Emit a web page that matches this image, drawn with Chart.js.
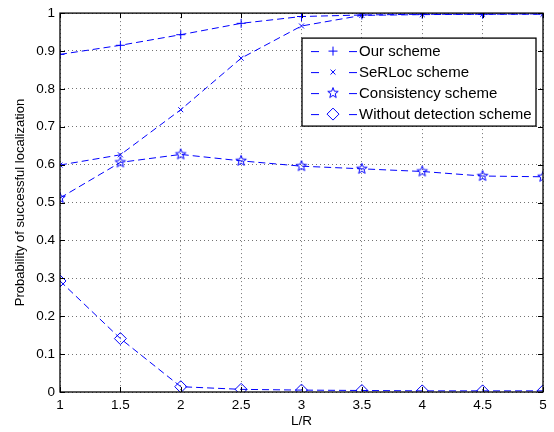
<!DOCTYPE html>
<html>
<head>
<meta charset="utf-8">
<script src="https://cdn.jsdelivr.net/npm/chart.js@4.4.0/dist/chart.umd.min.js"></script>
<style>html,body{margin:0;padding:0;background:#fff}canvas{display:block}</style>
</head>
<body>
<canvas id="c" width="554" height="432"></canvas>
<script>
// L/R values on the x axis
const lr = [1, 1.5, 2, 2.5, 3, 3.5, 4, 4.5, 5];
const ourScheme = [0.891, 0.915, 0.943, 0.973, 0.991, 0.995, 0.997, 0.997, 0.998];
const serlocScheme = [0.599, 0.626, 0.745, 0.881, 0.966, 0.994, 0.996, 0.997, 0.997];
const consistencyScheme = [0.512, 0.606, 0.627, 0.610, 0.596, 0.589, 0.582, 0.570, 0.568];
const withoutDetection = [0.293, 0.141, 0.014, 0.007, 0.005, 0.004, 0.003, 0.003, 0.003];
const seriesNames = ['Our scheme', 'SeRLoc scheme', 'Consistency scheme', 'Without detection scheme'];

const blue = '#0000ff';
const fontFamily = '"Liberation Sans", Arial, Helvetica, sans-serif';

// pentagram marker (matlab 'p')
function makeStar(r) {
  const size = Math.ceil(r * 2 + 3);
  const cv = document.createElement('canvas');
  cv.width = size; cv.height = size;
  const g = cv.getContext('2d');
  const c = size / 2;
  g.strokeStyle = blue;
  g.lineWidth = 1;
  g.beginPath();
  for (let i = 0; i < 10; i++) {
    const rad = i % 2 === 0 ? r : r * 0.42;
    const ang = -Math.PI / 2 + i * Math.PI / 5;
    const px = c + rad * Math.cos(ang), py = c + rad * Math.sin(ang);
    if (i === 0) g.moveTo(px, py); else g.lineTo(px, py);
  }
  g.closePath();
  g.stroke();
  return cv;
}
const star = makeStar(5.5);

const markers = [
  {pointStyle: 'cross', radius: 4.5},
  {pointStyle: 'crossRot', radius: 3.5},
  {pointStyle: star, radius: 5},
  {pointStyle: 'rectRot', radius: 6}
];

function toPoints(ys) {
  return lr.map((v, i) => ({x: v, y: ys[i]}));
}

// matlab style tick text: 1, 1.5, 0.1 ...
function tickText(v) {
  return String(+Number(v).toFixed(2));
}

const allSeries = [ourScheme, serlocScheme, consistencyScheme, withoutDetection];

const datasets = allSeries.map((ys, i) => ({
  label: seriesNames[i],
  data: toPoints(ys),
  borderColor: blue,
  borderWidth: 1,
  borderDash: [7, 4],
  pointStyle: markers[i].pointStyle,
  pointRadius: markers[i].radius,
  pointBorderColor: blue,
  pointBackgroundColor: 'rgba(0,0,0,0)',
  pointBorderWidth: 1,
  tension: 0,
  fill: false
}));

// box, inward ticks and the legend
const framePlugin = {
  id: 'frame',
  afterDraw(chart) {
    const {ctx, chartArea: a, scales: {x, y}} = chart;
    ctx.save();
    ctx.strokeStyle = '#000';
    ctx.lineWidth = 1.3;
    ctx.setLineDash([]);
    ctx.strokeRect(a.left, a.top, a.right - a.left, a.bottom - a.top);
    ctx.lineWidth = 1;
    ctx.beginPath();
    x.ticks.forEach(t => {
      const px = Math.round(x.getPixelForValue(t.value)) + 0.5;
      ctx.moveTo(px, a.bottom); ctx.lineTo(px, a.bottom - 5);
      ctx.moveTo(px, a.top); ctx.lineTo(px, a.top + 5);
    });
    y.ticks.forEach(t => {
      const py = Math.round(y.getPixelForValue(t.value)) + 0.5;
      ctx.moveTo(a.left, py); ctx.lineTo(a.left + 5, py);
      ctx.moveTo(a.right, py); ctx.lineTo(a.right - 5, py);
    });
    ctx.stroke();

    // legend
    const lw = 234, lh = 88;
    const lx = a.right - 7 - lw, ly = a.top + 25;
    ctx.fillStyle = '#fff';
    ctx.fillRect(lx, ly, lw, lh);
    ctx.strokeStyle = '#000';
    ctx.lineWidth = 1.3;
    ctx.strokeRect(lx, ly, lw, lh);
    ctx.font = '15px ' + fontFamily;
    ctx.textBaseline = 'middle';
    seriesNames.forEach((name, i) => {
      const ry = ly + 13 + i * 21;
      ctx.strokeStyle = blue;
      ctx.lineWidth = 1;
      ctx.beginPath();
      ctx.moveTo(lx + 9, ry + 0.5); ctx.lineTo(lx + 17, ry + 0.5);
      ctx.moveTo(lx + 47, ry + 0.5); ctx.lineTo(lx + 55, ry + 0.5);
      ctx.stroke();
      ctx.fillStyle = 'rgba(0,0,0,0)';
      Chart.helpers.drawPoint(ctx, {
        pointStyle: markers[i].pointStyle,
        radius: markers[i].radius,
        rotation: 0,
        borderWidth: 1
      }, lx + 31, ry);
      ctx.fillStyle = '#000';
      ctx.fillText(name, lx + 57, ry + 1);
    });
    ctx.restore();
  }
};

new Chart(document.getElementById('c').getContext('2d'), {
  type: 'line',
  data: {datasets: datasets},
  options: {
    responsive: false,
    animation: false,
    devicePixelRatio: 1,
    layout: {padding: {left: 0, top: 12, right: 11, bottom: 0}},
    plugins: {legend: {display: false}, tooltip: {enabled: false}},
    scales: {
      x: {
        type: 'linear',
        min: 1,
        max: 5,
        afterFit(scale) { scale.height = 40; },
        ticks: {stepSize: 0.5, padding: 5, color: '#000', font: {family: fontFamily, size: 13.5}, maxRotation: 0, callback: tickText},
        grid: {color: 'rgba(0,0,0,0.55)', drawTicks: false, lineWidth: 1},
        border: {display: false, dash: [1, 3]},
        title: {display: true, text: 'L/R', color: '#000', font: {family: fontFamily, size: 13.5}, padding: {top: 2, bottom: 3}}
      },
      y: {
        type: 'linear',
        min: 0,
        max: 1,
        afterFit(scale) { scale.width = 60; },
        ticks: {stepSize: 0.1, padding: 5, color: '#000', font: {family: fontFamily, size: 13.5}, callback: tickText},
        grid: {color: 'rgba(0,0,0,0.55)', drawTicks: false, lineWidth: 1},
        border: {display: false, dash: [1, 3]},
        title: {display: true, text: 'Probability of successful localization', color: '#000', font: {family: fontFamily, size: 13}, padding: {top: 13, bottom: 4}}
      }
    }
  },
  plugins: [framePlugin]
});
</script>
</body>
</html>
